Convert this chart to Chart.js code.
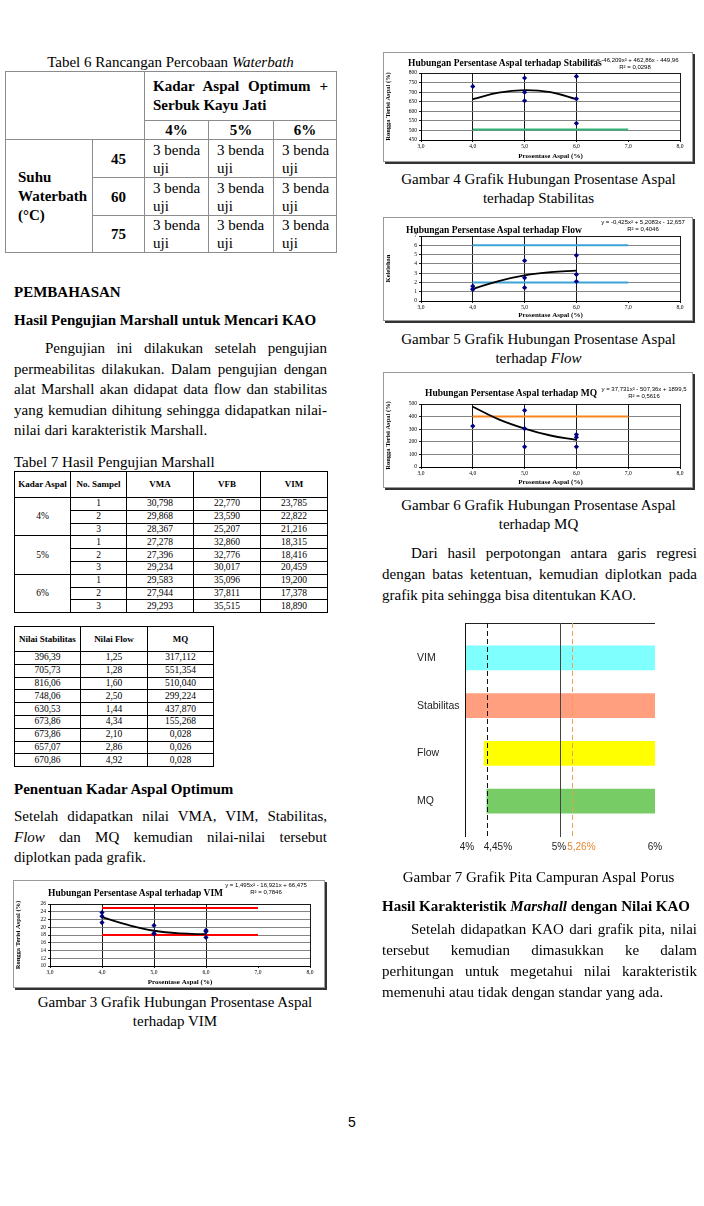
<!DOCTYPE html>
<html lang="id">
<head>
<meta charset="utf-8">
<title>Halaman 5</title>
<script src="https://cdn.jsdelivr.net/npm/chart.js@4.4.1/dist/chart.umd.min.js"></script>
<style>
  html, body { margin: 0; padding: 0; background: #fff; }
  #page { position: relative; width: 704px; height: 1206px; overflow: hidden;
          font-family: "Liberation Serif", "Times New Roman", serif; font-size: 15px; color: #000; }
  .ln { position: absolute; height: 20px; line-height: 20px; white-space: nowrap; }
  .jl { position: absolute; height: 20px; line-height: 20px; text-align: justify; text-align-last: justify; white-space: normal; }
  .c { text-align: center; }
  .b { font-weight: bold; }
  table { position: absolute; border-collapse: collapse; table-layout: fixed; }
  #tabel6 td, #tabel6 th { border: 1px solid #8c8c8c; padding: 0; vertical-align: middle; line-height: 18px; }
  #tabel6 th { font-weight: bold; text-align: center; }
  #tabel6 .kao { font-weight: bold; padding: 0 8px; line-height: 19px; text-align: left; }
  #tabel6 .kao .j1 { text-align: justify; text-align-last: justify; }
  #tabel6 .uji { padding-left: 8px; }
  #tabel6 .suhu { font-weight: bold; padding-left: 12px; line-height: 19px; }
  .tk { font-size: 9.5px; }
  .tk td, .tk th { border: 1px solid #000; padding: 0; text-align: center; line-height: 11px; vertical-align: middle; }
  .tk th { font-weight: bold; font-size: 9px; }
  .box { position: absolute; box-sizing: border-box; border: 1px solid #9a9a9a; box-shadow: 2px 2px 0 #333; background: #fff; }
  .box canvas { position: absolute; left: 0; top: 0; }
  .gjudul { position: absolute; font: bold 9.5px "Liberation Serif", serif; line-height: 10px; white-space: nowrap; }
  .geq { position: absolute; width: 100px; font: 6px "Liberation Sans", Arial, sans-serif; line-height: 7px; text-align: center; white-space: nowrap; }
  #pita { position: absolute; left: 380px; top: 610px; }
</style>
</head>
<body>
<div id="page">

  <!-- kolom kiri -->
  <div class="ln c" style="left:5px;top:52px;width:331px">Tabel 6 Rancangan Percobaan <i>Waterbath</i></div>
  <table id="tabel6" style="left:5px;top:71px;width:331px">
    <colgroup><col style="width:87px"><col style="width:52px"><col style="width:64px"><col style="width:65px"><col style="width:63px"></colgroup>
    <tr style="height:49px"><td colspan="2" rowspan="2"></td><td colspan="3" class="kao"><div class="j1">Kadar Aspal Optimum +</div>Serbuk Kayu Jati</td></tr>
    <tr style="height:19px"><th>4%</th><th>5%</th><th>6%</th></tr>
    <tr style="height:38px"><td rowspan="3" class="suhu">Suhu<br>Waterbath<br>(°C)</td><th>45</th><td class="uji">3 benda<br>uji</td><td class="uji">3 benda<br>uji</td><td class="uji">3 benda<br>uji</td></tr>
    <tr style="height:38px"><th>60</th><td class="uji">3 benda<br>uji</td><td class="uji">3 benda<br>uji</td><td class="uji">3 benda<br>uji</td></tr>
    <tr style="height:37px"><th>75</th><td class="uji">3 benda<br>uji</td><td class="uji">3 benda<br>uji</td><td class="uji">3 benda<br>uji</td></tr>
  </table>

  <div class="ln b" style="left:14px;top:282px">PEMBAHASAN</div>
  <div class="ln b" style="left:14px;top:310px">Hasil Pengujian Marshall untuk Mencari KAO</div>
  <div class="jl" style="left:45px;top:338px;width:282px">Pengujian ini dilakukan setelah pengujian</div>
  <div class="jl" style="left:14px;top:358.5px;width:313px">permeabilitas dilakukan. Dalam pengujian dengan</div>
  <div class="jl" style="left:14px;top:379px;width:313px">alat Marshall akan didapat data flow dan stabilitas</div>
  <div class="jl" style="left:14px;top:399.5px;width:313px">yang kemudian dihitung sehingga didapatkan nilai-</div>
  <div class="ln" style="left:14px;top:420px">nilai dari karakteristik Marshall.</div>

  <div class="ln" style="left:14px;top:452px">Tabel 7 Hasil Pengujian Marshall</div>
  <table class="tk" style="left:14px;top:471px;width:313px">
    <colgroup><col style="width:56px"><col style="width:56px"><col style="width:67px"><col style="width:67px"><col style="width:67px"></colgroup>
    <tr style="height:26px"><th>Kadar Aspal</th><th>No. Sampel</th><th>VMA</th><th>VFB</th><th>VIM</th></tr>
    <tr style="height:12.8px"><td rowspan="3">4%</td><td>1</td><td>30,798</td><td>22,770</td><td>23,785</td></tr>
    <tr style="height:12.8px"><td>2</td><td>29,868</td><td>23,590</td><td>22,822</td></tr>
    <tr style="height:12.8px"><td>3</td><td>28,367</td><td>25,207</td><td>21,216</td></tr>
    <tr style="height:12.8px"><td rowspan="3">5%</td><td>1</td><td>27,278</td><td>32,860</td><td>18,315</td></tr>
    <tr style="height:12.8px"><td>2</td><td>27,396</td><td>32,776</td><td>18,416</td></tr>
    <tr style="height:12.8px"><td>3</td><td>29,234</td><td>30,017</td><td>20,459</td></tr>
    <tr style="height:12.8px"><td rowspan="3">6%</td><td>1</td><td>29,583</td><td>35,096</td><td>19,200</td></tr>
    <tr style="height:12.8px"><td>2</td><td>27,944</td><td>37,811</td><td>17,378</td></tr>
    <tr style="height:12.8px"><td>3</td><td>29,293</td><td>35,515</td><td>18,890</td></tr>
  </table>

  <table class="tk" style="left:14px;top:626px;width:199px">
    <colgroup><col style="width:66px"><col style="width:67px"><col style="width:66px"></colgroup>
    <tr style="height:25px"><th>Nilai Stabilitas</th><th>Nilai Flow</th><th>MQ</th></tr>
    <tr style="height:12.8px"><td>396,39</td><td>1,25</td><td>317,112</td></tr>
    <tr style="height:12.8px"><td>705,73</td><td>1,28</td><td>551,354</td></tr>
    <tr style="height:12.8px"><td>816,06</td><td>1,60</td><td>510,040</td></tr>
    <tr style="height:12.8px"><td>748,06</td><td>2,50</td><td>299,224</td></tr>
    <tr style="height:12.8px"><td>630,53</td><td>1,44</td><td>437,870</td></tr>
    <tr style="height:12.8px"><td>673,86</td><td>4,34</td><td>155,268</td></tr>
    <tr style="height:12.8px"><td>673,86</td><td>2,10</td><td>0,028</td></tr>
    <tr style="height:12.8px"><td>657,07</td><td>2,86</td><td>0,026</td></tr>
    <tr style="height:12.8px"><td>670,86</td><td>4,92</td><td>0,028</td></tr>
  </table>

  <div class="ln b" style="left:14px;top:779px">Penentuan Kadar Aspal Optimum</div>
  <div class="jl" style="left:14px;top:806px;width:313px">Setelah didapatkan nilai VMA, VIM, Stabilitas,</div>
  <div class="jl" style="left:14px;top:826.5px;width:313px"><i>Flow</i> dan MQ kemudian nilai-nilai tersebut</div>
  <div class="ln" style="left:14px;top:847px">diplotkan pada grafik.</div>

  <div class="box" style="left:13px;top:880px;width:312px;height:108px">
    <canvas id="gVim" width="310" height="106"></canvas>
    <div class="gjudul" style="left:34px;top:7px">Hubungan Persentase Aspal terhadap VIM</div>
    <div class="geq" style="left:202px;top:1px">y = 1,495x² - 16,921x + 66,475<br>R² = 0,7846</div>
  </div>
  <div class="ln c" style="left:14px;top:992px;width:322px">Gambar 3 Grafik Hubungan Prosentase Aspal</div>
  <div class="ln c" style="left:14px;top:1011px;width:322px">terhadap VIM</div>

  <!-- kolom kanan -->
  <div class="box" style="left:383px;top:52px;width:310px;height:110px">
    <canvas id="gStab" width="308" height="108"></canvas>
    <div class="gjudul" style="left:24px;top:5px">Hubungan Persentase Aspal terhadap Stabilitas</div>
    <div class="geq" style="left:201px;top:4px">y = -46,209x² + 462,86x - 449,96<br>R² = 0,0298</div>
  </div>
  <div class="ln c" style="left:380px;top:169px;width:317px">Gambar 4 Grafik Hubungan Prosentase Aspal</div>
  <div class="ln c" style="left:380px;top:187.5px;width:317px">terhadap Stabilitas</div>

  <div class="box" style="left:383px;top:217px;width:310px;height:104px">
    <canvas id="gFlow" width="308" height="102"></canvas>
    <div class="gjudul" style="left:22px;top:7px">Hubungan Persentase Aspal terhadap Flow</div>
    <div class="geq" style="left:209px;top:1px">y = -0,425x² + 5,2083x - 12,657<br>R² = 0,4046</div>
  </div>
  <div class="ln c" style="left:380px;top:329px;width:317px">Gambar 5 Grafik Hubungan Prosentase Aspal</div>
  <div class="ln c" style="left:380px;top:347.5px;width:317px">terhadap <i>Flow</i></div>

  <div class="box" style="left:383px;top:372px;width:310px;height:116px">
    <canvas id="gMq" width="308" height="114"></canvas>
    <div class="gjudul" style="left:41px;top:15px">Hubungan Persentase Aspal terhadap MQ</div>
    <div class="geq" style="left:210px;top:13px">y = 37,731x² - 507,36x + 1899,5<br>R² = 0,5616</div>
  </div>
  <div class="ln c" style="left:380px;top:495px;width:317px">Gambar 6 Grafik Hubungan Prosentase Aspal</div>
  <div class="ln c" style="left:380px;top:513.5px;width:317px">terhadap MQ</div>

  <div class="jl" style="left:411px;top:543px;width:286px">Dari hasil perpotongan antara garis regresi</div>
  <div class="jl" style="left:382px;top:564px;width:315px">dengan batas ketentuan, kemudian diplotkan pada</div>
  <div class="ln" style="left:382px;top:585px">grafik pita sehingga bisa ditentukan KAO.</div>

  <canvas id="pita" width="320" height="260"></canvas>

  <div class="ln c" style="left:380px;top:867px;width:317px">Gambar 7 Grafik Pita Campuran Aspal Porus</div>
  <div class="ln b" style="left:382px;top:896px">Hasil Karakteristik <i>Marshall</i> dengan Nilai KAO</div>
  <div class="jl" style="left:411px;top:919px;width:286px">Setelah didapatkan KAO dari grafik pita, nilai</div>
  <div class="jl" style="left:382px;top:940px;width:315px">tersebut kemudian dimasukkan ke dalam</div>
  <div class="jl" style="left:382px;top:961px;width:315px">perhitungan untuk megetahui nilai karakteristik</div>
  <div class="ln" style="left:382px;top:982px">memenuhi atau tidak dengan standar yang ada.</div>

  <div class="ln c" style="left:332px;top:1112px;width:40px;font-family:'Liberation Sans',Arial,sans-serif;font-size:14px">5</div>
</div>

<script>
// ---- data ----

// x axis shared by the four small Excel charts
const kadarTicks = [3, 4, 5, 6, 7, 8];
const batasKadar = [4, 7];

// Gambar 3 - VIM
const vimKadar = [4, 4, 4, 5, 5, 5, 6, 6, 6];
const vimNilai = [23.785, 22.822, 21.216, 18.315, 18.416, 20.459, 19.2, 17.378, 18.89];
const vimTrenKadar = [4, 4.5, 5, 5.5, 6];
const vimTrenNilai = [22.6, 20.6, 19.1, 18.4, 18.2];
const vimBatas = [25, 18];

// Gambar 4 - Stabilitas
const stabKadar = [4, 5, 5, 5, 6, 6, 6];
const stabNilai = [730, 774, 700, 655, 782, 665, 537];
const stabTrenKadar = [4, 4.5, 5, 5.5, 6];
const stabTrenNilai = [663, 698, 711, 700, 663];
const stabBatas = [505];

// Gambar 5 - Flow
const flowKadar = [4, 4, 4, 5, 5, 5, 6, 6, 6];
const flowNilai = [1.25, 1.28, 1.6, 2.5, 1.44, 4.34, 2.1, 2.86, 4.92];
const flowTrenKadar = [4, 4.5, 5, 5.5, 6];
const flowTrenNilai = [1.3, 2.15, 2.75, 3.1, 3.27];
const flowBatas = [6, 2];

// Gambar 6 - MQ
const mqKadar = [4, 5, 5, 5, 6, 6, 6];
const mqNilai = [325, 450, 305, 160, 258, 236, 160];
const mqTrenKadar = [4, 4.5, 5, 5.5, 6];
const mqTrenNilai = [478, 378, 305, 250, 215];
const mqBatas = [400];

// Gambar 7 - grafik pita
const pitaKategori = ['VIM', 'Stabilitas', 'Flow', 'MQ'];
const pitaMulai = [4, 4, 4.2, 4.23];
const pitaAkhir = [6, 6, 6, 6];
const pitaGaris = [4, 4.23, 5, 5.13];
const pitaTickNilai = [4, 4.23, 5, 5.13, 6];
const pitaTickLabel = ['4%', '4,45%', '5%', '5,26%', '6%'];


// keep every justified line on one line (shrink a little if it would wrap)
document.querySelectorAll('.jl').forEach(el => {
  let fs = 15;
  while (el.scrollHeight > 22 && fs > 12) {
    fs -= 0.1;
    el.style.fontSize = fs + 'px';
  }
});


// --------- small Excel style charts ---------

function toPoints(xs, ys) {
  return xs.map((x, i) => ({ x: x, y: ys[i] }));
}

function grafikAspal(id, cfg) {
  const serif = 'Liberation Serif';
  const datasets = [
    {
      data: toPoints(cfg.titikX, cfg.titikY),
      pointStyle: 'rectRot', pointRadius: 2.6,
      backgroundColor: '#000080', borderColor: '#000080', borderWidth: 0
    },
    {
      data: toPoints(cfg.trenX, cfg.trenY),
      showLine: true, borderColor: '#000', borderWidth: 1.8,
      tension: 0.4, pointRadius: 0
    }
  ];
  cfg.batas.forEach(b => {
    datasets.push({
      data: toPoints(batasKadar, batasKadar.map(() => b)),
      showLine: true, borderColor: cfg.warnaBatas, borderWidth: 2, pointRadius: 0
    });
  });

  return new Chart(document.getElementById(id), {
    type: 'scatter',
    data: { datasets: datasets },
    options: {
      responsive: false,
      animation: false,
      layout: { padding: { left: 0, right: cfg.kanan, top: cfg.atas, bottom: 0 } },
      plugins: { legend: { display: false }, tooltip: { enabled: false } },
      scales: {
        x: {
          type: 'linear', min: 3, max: 8,
          afterBuildTicks: s => { s.ticks = kadarTicks.map(v => ({ value: v })); },
          afterFit: s => { s.height = cfg.bawah; },
          ticks: {
            font: { family: serif, size: 5.5 }, color: '#000', padding: 1, maxRotation: 0, autoSkip: false,
            callback: v => v.toFixed(1).replace('.', ',')
          },
          grid: {
            color: c => (c.tick && cfg.tegak.includes(c.tick.value)) ? '#000' : 'rgba(0,0,0,0)',
            lineWidth: 0.9, tickLength: 2, tickColor: '#000'
          },
          border: { color: '#000', width: 1 },
          title: {
            display: true, text: 'Prosentase Aspal (%)', color: '#000',
            font: { family: serif, size: 7, weight: 'bold' }, padding: { top: 0, bottom: 1 }
          }
        },
        y: {
          min: cfg.min, max: cfg.max,
          afterFit: s => { s.width = cfg.kiri; },
          ticks: { stepSize: cfg.step, autoSkip: false, font: { family: serif, size: 5.5 }, color: '#000', padding: 2 },
          grid: {
            color: c => (c.tick && c.tick.value === cfg.max) ? '#000' : '#777',
            lineWidth: 0.9, tickLength: 2, tickColor: '#000'
          },
          border: { color: '#000', width: 1 },
          title: {
            display: true, text: cfg.judulY, color: '#000',
            font: { family: serif, size: 6.5, weight: 'bold' }, padding: { top: 0, bottom: 1 }
          }
        }
      }
    }
  });
}

grafikAspal('gVim', {
  titikX: vimKadar, titikY: vimNilai, trenX: vimTrenKadar, trenY: vimTrenNilai,
  batas: vimBatas, warnaBatas: '#FF0000',
  min: 10, max: 26, step: 2, judulY: 'Rongga Terisi Aspal (%)', tegak: [4, 5, 6, 8],
  kiri: 36, kanan: 14, atas: 23, bawah: 21
});

grafikAspal('gStab', {
  titikX: stabKadar, titikY: stabNilai, trenX: stabTrenKadar, trenY: stabTrenNilai,
  batas: stabBatas, warnaBatas: '#33B27A',
  min: 450, max: 800, step: 50, judulY: 'Rongga Terisi Aspal (%)', tegak: [4, 5, 6, 8],
  kiri: 37, kanan: 12, atas: 20, bawah: 21
});

grafikAspal('gFlow', {
  titikX: flowKadar, titikY: flowNilai, trenX: flowTrenKadar, trenY: flowTrenNilai,
  batas: flowBatas, warnaBatas: '#3DA3D6',
  min: 0, max: 7, step: 1, judulY: 'Kelelehan', tegak: [4, 5, 6, 8],
  kiri: 37, kanan: 12, atas: 18, bawah: 19
});

grafikAspal('gMq', {
  titikX: mqKadar, titikY: mqNilai, trenX: mqTrenKadar, trenY: mqTrenNilai,
  batas: mqBatas, warnaBatas: '#F7861E',
  min: 0, max: 500, step: 100, judulY: 'Rongga Terisi Aspal (%)', tegak: [4, 5, 6, 7, 8],
  kiri: 37, kanan: 12, atas: 31, bawah: 20
});


// --------- Gambar 7 (grafik pita) ---------

const gayaGaris = [
  { color: '#111', dash: [] },
  { color: '#111', dash: [5, 3] },
  { color: '#444', dash: [] },
  { color: '#F0A04B', dash: [5, 3] }
];
const geserLabel = [2, 11, -1, 9, 0];

const pitaGarisPlugin = {
  id: 'pitaGaris',
  afterDatasetsDraw(chart) {
    const { ctx, chartArea, scales } = chart;
    const x = scales.x;
    const atas = chartArea.top - 11;
    const bawah = chartArea.bottom + 12;
    ctx.save();
    ctx.lineWidth = 1;
    ctx.strokeStyle = '#222';
    ctx.beginPath();
    ctx.moveTo(x.getPixelForValue(pitaTickNilai[0]), atas + 0.5);
    ctx.lineTo(x.getPixelForValue(pitaTickNilai[pitaTickNilai.length - 1]), atas + 0.5);
    ctx.stroke();

    pitaGaris.forEach((v, i) => {
      const px = Math.round(x.getPixelForValue(v)) + 0.5;
      ctx.strokeStyle = gayaGaris[i].color;
      ctx.setLineDash(gayaGaris[i].dash);
      ctx.beginPath();
      ctx.moveTo(px, atas);
      ctx.lineTo(px, bawah);
      ctx.stroke();
    });
    ctx.setLineDash([]);

    ctx.font = '10px "Liberation Sans", Arial, sans-serif';
    ctx.textAlign = 'center';
    ctx.textBaseline = 'middle';
    pitaTickNilai.forEach((v, i) => {
      ctx.fillStyle = pitaTickLabel[i] === '5,26%' ? '#E8862F' : '#222';
      ctx.fillText(pitaTickLabel[i], x.getPixelForValue(v) + geserLabel[i], chartArea.bottom + 22);
    });
    ctx.restore();
  }
};

new Chart(document.getElementById('pita'), {
  type: 'bar',
  data: {
    labels: pitaKategori,
    datasets: [{
      data: pitaMulai.map((m, i) => [m, pitaAkhir[i]]),
      backgroundColor: ['#80FFFF', '#FF9F80', '#FFFF00', '#77CC66'],
      borderWidth: 0,
      barThickness: 24
    }]
  },
  options: {
    indexAxis: 'y',
    responsive: false,
    animation: false,
    layout: { padding: { left: 37, right: 45, top: 24, bottom: 45 } },
    plugins: { legend: { display: false }, tooltip: { enabled: false } },
    scales: {
      x: { type: 'linear', min: 4, max: 6, display: false },
      y: {
        afterFit: s => { s.width = 48; },
        grid: { display: false },
        border: { display: false },
        ticks: {
          crossAlign: 'far', padding: 0, color: '#222',
          font: { family: 'Liberation Sans', size: 10.5 }
        }
      }
    }
  },
  plugins: [pitaGarisPlugin]
});
</script>
</body>
</html>
